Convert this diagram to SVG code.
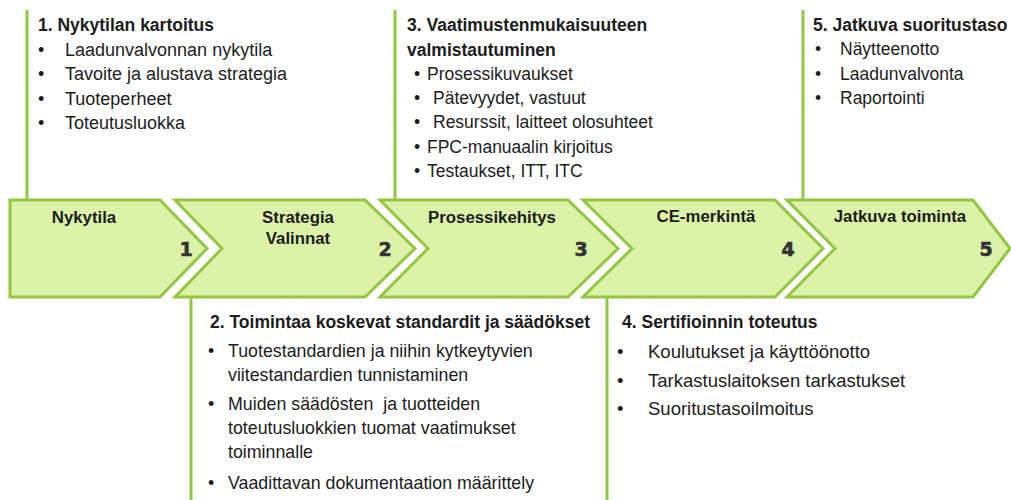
<svg xmlns="http://www.w3.org/2000/svg" width="1011" height="500" viewBox="0 0 1011 500">
<style>
.chev{fill:#dcf2a8;stroke:#93c741;stroke-width:3;stroke-linejoin:miter}
.vl{stroke:#93c741;stroke-width:3;fill:none}
text{font-family:"Liberation Sans",Arial,sans-serif;fill:#1c1c1c}
.t{font-size:17.5px;font-weight:bold}
.b{font-size:17.5px}
.b1{font-size:18px}
.b2{font-size:17.8px}
.b4{font-size:18.5px}
.lbl{font-size:16.8px;font-weight:bold;text-anchor:middle}
.num{font-family:"DejaVu Sans",sans-serif;font-size:19px;font-weight:bold;fill:#333333;text-anchor:middle;stroke:#333333;stroke-width:0.6}
</style>
<rect width="1011" height="500" fill="#ffffff"/>
<g id="connectors">
<line class="vl" x1="27" y1="10" x2="27" y2="200"/>
<line class="vl" x1="395" y1="10" x2="395" y2="200"/>
<line class="vl" x1="803" y1="10" x2="803" y2="200"/>
<line class="vl" x1="191" y1="297" x2="191" y2="500"/>
<line class="vl" x1="607" y1="297" x2="607" y2="500"/>
</g>
<g id="step1">
<path class="chev" d="M10,200 L160,200 L207,248.5 L160,297 L10,297 Z"/>
<text class="lbl" x="84" y="223">Nykytila</text>
<text class="num" x="186" y="256">1</text>
</g>
<g id="step2">
<path class="chev" d="M175,200 L365,200 L415,248.5 L365,297 L175,297 L222,248.5 Z"/>
<text class="lbl" x="298" y="223">Strategia</text>
<text class="lbl" x="298" y="244">Valinnat</text>
<text class="num" x="385" y="256">2</text>
</g>
<g id="step3">
<path class="chev" d="M380,200 L568,200 L618,248.5 L568,297 L380,297 L428,248.5 Z"/>
<text class="lbl" x="492" y="223">Prosessikehitys</text>
<text class="num" x="581" y="256">3</text>
</g>
<g id="step4">
<path class="chev" d="M583,200 L775,200 L823,248.5 L775,297 L583,297 L632,248.5 Z"/>
<text class="lbl" x="706" y="222">CE-merkintä</text>
<text class="num" x="788" y="256">4</text>
</g>
<g id="step5">
<path class="chev" d="M787,200 L973,200 L1010,248.5 L973,297 L787,297 L835,248.5 Z"/>
<text class="lbl" x="900" y="222">Jatkuva toiminta</text>
<text class="num" x="986" y="256">5</text>
</g>
<g id="box1">
<text class="t" x="38" y="31">1. Nykytilan kartoitus</text>
<text class="b1" x="38" y="56">•</text><text class="b1" x="65" y="56">Laadunvalvonnan nykytila</text>
<text class="b1" x="38" y="80">•</text><text class="b1" x="65" y="80">Tavoite ja alustava strategia</text>
<text class="b1" x="38" y="105">•</text><text class="b1" x="65" y="105">Tuoteperheet</text>
<text class="b1" x="38" y="129">•</text><text class="b1" x="65" y="129">Toteutusluokka</text>
</g>
<g id="box3">
<text class="t" x="407" y="31">3. Vaatimustenmukaisuuteen</text>
<text class="t" x="407" y="56">valmistautuminen</text>
<text class="b" x="414" y="80">•</text><text class="b" x="427" y="80">Prosessikuvaukset</text>
<text class="b" x="414" y="104">•</text><text class="b" x="433" y="104">Pätevyydet, vastuut</text>
<text class="b" x="414" y="128">•</text><text class="b" x="433" y="128">Resurssit, laitteet olosuhteet</text>
<text class="b" x="414" y="153">•</text><text class="b" x="427" y="153">FPC-manuaalin kirjoitus</text>
<text class="b" x="414" y="177">•</text><text class="b" x="427" y="177">Testaukset, ITT, ITC</text>
</g>
<g id="box5">
<text class="t" x="813" y="31">5. Jatkuva suoritustaso</text>
<text class="b" x="815" y="55">•</text><text class="b" x="840" y="55">Näytteenotto</text>
<text class="b" x="815" y="80">•</text><text class="b" x="840" y="80">Laadunvalvonta</text>
<text class="b" x="815" y="104">•</text><text class="b" x="840" y="104">Raportointi</text>
</g>
<g id="box2">
<text class="t" x="210" y="328">2. Toimintaa koskevat standardit ja säädökset</text>
<text class="b2" x="208" y="357">•</text><text class="b2" x="228" y="357">Tuotestandardien ja niihin kytkeytyvien</text>
<text class="b2" x="228" y="381">viitestandardien tunnistaminen</text>
<text class="b2" x="208" y="410">•</text><text class="b2" x="228" y="410" xml:space="preserve">Muiden säädösten  ja tuotteiden</text>
<text class="b2" x="228" y="434">toteutusluokkien tuomat vaatimukset</text>
<text class="b2" x="228" y="458">toiminnalle</text>
<text class="b2" x="208" y="489">•</text><text class="b2" x="228" y="489">Vaadittavan dokumentaation määrittely</text>
</g>
<g id="box4">
<text class="t" x="622" y="328">4. Sertifioinnin toteutus</text>
<text class="b4" x="617" y="358">•</text><text class="b4" x="648" y="358">Koulutukset ja käyttöönotto</text>
<text class="b4" x="617" y="387">•</text><text class="b4" x="648" y="387">Tarkastuslaitoksen tarkastukset</text>
<text class="b4" x="617" y="415">•</text><text class="b4" x="648" y="415">Suoritustasoilmoitus</text>
</g>
</svg>
